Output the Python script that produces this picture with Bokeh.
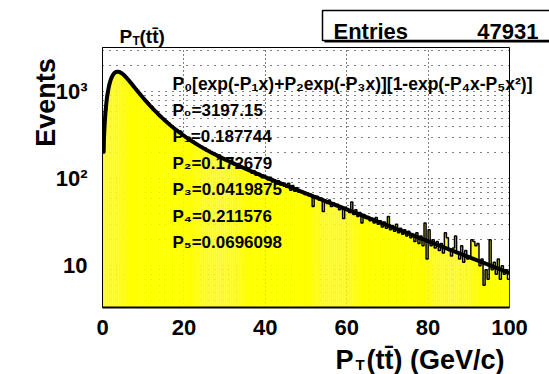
import numpy as np
from bokeh.plotting import figure
from bokeh.models import FixedTicker
from bokeh.core.properties import value
from bokeh.embed import file_html
from bokeh.resources import INLINE

# ---------------- data ----------------
bin_width = 0.5
x_min, x_max = 0.0, 100.0
counts = [
    198, 601, 948, 1251, 1458, 1612, 1679, 1711, 1690, 1622,
    1566, 1469, 1401, 1298, 1231, 1139, 1082, 997, 951, 876,
    836, 779, 751, 689, 668, 620, 594, 553, 535, 490,
    482, 449, 440, 410, 402, 376, 369, 343, 341, 315,
    314, 292, 300, 268, 273, 253, 250, 241, 232, 225,
    226, 208, 206, 203, 190, 192, 181, 188, 172, 174,
    168, 160, 154, 163, 146, 148, 150, 134, 139, 131,
    133, 125, 126, 116, 124, 110, 117, 108, 103, 109,
    104, 97, 104, 92, 96, 88, 95, 85, 90, 82,
    80, 89, 74, 84, 72, 79, 70, 73, 69, 66,
    69, 64, 66, 48, 61, 63, 57, 60, 42, 56,
    52, 57, 48, 53, 49, 51, 44, 48, 35, 47,
    45, 41, 54, 39, 44, 37, 41, 31, 39, 35,
    37, 33, 35, 31, 36, 30, 33, 28, 32, 27,
    37, 26, 29, 25, 30, 24, 27, 23, 26, 22,
    25, 21, 23, 19, 24, 18, 22, 17, 31, 12,
    26, 17, 20, 16, 19, 15, 18, 14, 24, 21,
    15, 13, 16, 22, 14, 12, 17, 11, 15, 12,
    13, 20, 19, 17, 18, 10, 12, 6, 9, 7,
    20, 9, 11, 8, 12, 7, 10, 8, 9, 7,
]
fit_params = [3197.15, 0.187744, 0.172679, 0.0419875, 0.211576, 0.0696098]
fit_names = ["P\u2080", "P\u2081", "P\u2082", "P\u2083", "P\u2084", "P\u2085"]
fit_formula = "P\u2080[exp(-P\u2081x)+P\u2082exp(-P\u2083x)][1-exp(-P\u2084x-P\u2085x\u00b2)]"
fit_start = 0.25
entries = 47931
x_ticks = [0, 20, 40, 60, 80, 100]
y_ticks = [10, 100, 1000]
y_tick_labels = {10: "10", 100: "10\u00b2", 1000: "10\u00b3"}
y_minor = [m * d for d in (1, 10, 100, 1000) for m in range(2, 10)]
y_lo, y_hi = 3.32, 3230

# ---------------- main figure ----------------
W, H = 549, 374
FL, FR, FT, FB = 102, 40, 47, 67
FONT = "Liberation Sans"

p = figure(width=W, height=H, output_backend="svg", toolbar_location=None,
           x_range=(x_min, x_max), y_range=(y_lo, y_hi), y_axis_type="log",
           min_border_left=FL, min_border_right=FR, min_border_top=FT,
           min_border_bottom=FB)
p.background_fill_color = "white"
p.border_fill_color = "white"
p.outline_line_color = "black"
p.outline_line_width = 1

xt = FixedTicker(ticks=x_ticks)
yt = FixedTicker(ticks=y_ticks, minor_ticks=y_minor)
p.xaxis.ticker = xt
p.yaxis.ticker = yt
p.xgrid.ticker = xt
p.ygrid.ticker = yt
p.yaxis.major_label_overrides = y_tick_labels
for ax in (p.xaxis[0], p.yaxis[0]):
    ax.major_label_text_font = FONT
    ax.major_label_text_font_style = "bold"
    ax.major_label_text_font_size = "22px"
    ax.major_label_text_color = "black"
    ax.major_tick_line_color = None
    ax.minor_tick_line_color = None
    ax.axis_line_color = "black"
p.xaxis.axis_line_width = 2
p.xaxis.major_label_standoff = 6
p.yaxis.major_label_standoff = 9

p.xgrid.grid_line_color = "black"
p.xgrid.grid_line_dash = "1 3"
p.ygrid.grid_line_color = "black"
p.ygrid.grid_line_dash = "1 6"
p.ygrid.minor_grid_line_color = "black"
p.ygrid.minor_grid_line_dash = "1 6"

# histogram
c = np.array(counts, dtype=float)
n = len(c)
left = x_min + bin_width * np.arange(n)
right = left + bin_width
p.quad(left=left, right=right, top=c, bottom=1.0, fill_color="#ffff00",
       line_color=None)
p.step(x=np.append(left, right[-1]), y=np.append(c, c[-1]), mode="after",
       line_color="black", line_width=1.5)

# fit curve
P0, P1, P2, P3, P4, P5 = fit_params
xf = np.linspace(fit_start, x_max, 800)
yf = P0 * (np.exp(-P1 * xf) + P2 * np.exp(-P3 * xf)) * (1 - np.exp(-P4 * xf - P5 * xf ** 2))
p.line(xf, yf, line_color="black", line_width=4)

# ---------------- text overlay (canvas pixel coordinates) ----------------
t = figure(width=W, height=H, output_backend="svg", toolbar_location=None,
           x_range=(0, W), y_range=(0, H), x_axis_location=None,
           y_axis_location=None, min_border=0,
           styles={"position": "absolute", "left": "0px", "top": "0px"})
t.grid.visible = False
t.outline_line_color = None
t.background_fill_alpha = 0
t.border_fill_alpha = 0


def txt(s, X, Y, size, align="left", angle=0.0):
    t.text(x=[X], y=[H - Y], text=[s], text_font=value(FONT),
           text_font_style="bold", text_font_size=value(f"{size}px"),
           text_align=align, text_baseline="alphabetic", angle=angle,
           text_color="black")


# title
txt("P", 119, 36, 19)
txt("T", 132, 40, 12)
txt("(tt\u0304)", 139, 36, 19)

# stats box
t.quad(left=[324], right=[554], top=[H - 12], bottom=[H - 42],
       fill_color="black", line_color=None)
t.quad(left=[322], right=[552], top=[H - 10], bottom=[H - 40],
       fill_color="white", line_color="black", line_width=1.5)
txt("Entries", 333, 31, 22)
txt(f"{entries}", 538, 31, 22, align="right")

# fit formula + parameters
txt(fit_formula, 172, 83, 17.5)
for i, (nm, v) in enumerate(zip(fit_names, fit_params)):
    txt(f"{nm}={v:g}", 172, 110 + 26.4 * i, 17)

# axis titles
txt("P", 335, 359, 27)
txt("T", 355, 364, 15)
txt("(tt\u0304) (GeV/c)", 366, 359, 27)
txt("Events", 45, 102, 27, align="center", angle=np.pi / 2)

open("out.html", "w").write(file_html([p, t], INLINE))
